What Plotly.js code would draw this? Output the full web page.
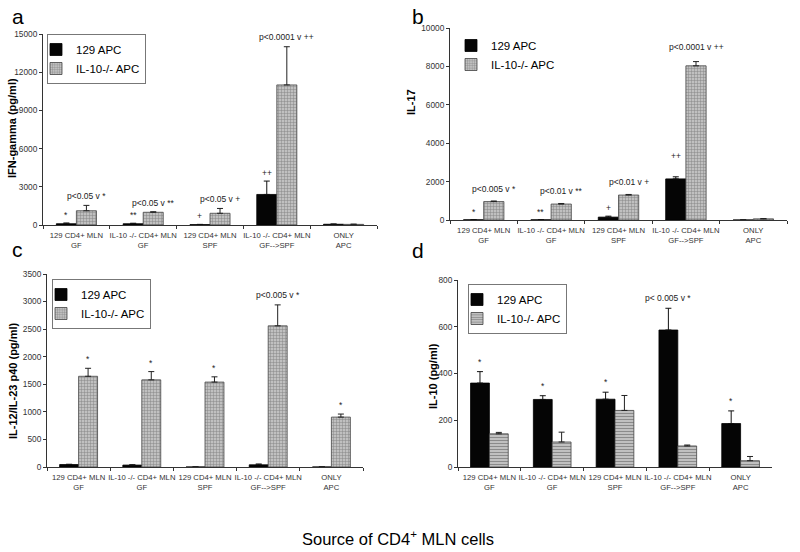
<!DOCTYPE html>
<html>
<head>
<meta charset="utf-8">
<script src="https://cdn.plot.ly/plotly-3.0.1.min.js"></script>
<style>html,body{margin:0;padding:0;background:#fff;}#chart{width:800px;height:552px;}</style>
</head>
<body>
<div id="chart"></div>
<script>
// ---- data ----
const categories = ["129 CD4+ MLN<br>GF", "IL-10 -/- CD4+ MLN<br>GF", "129 CD4+ MLN<br>SPF", "IL-10 -/- CD4+ MLN<br>GF--&gt;SPF", "ONLY<br>APC"];
const seriesNames = ["129 APC", "IL-10-/- APC"];

// a: IFN-gamma
const ifn129 = [100, 100, 30, 2400, 60];
const ifn129Err = [60, 40, 20, 1050, 20];
const ifnIL10 = [1120, 1000, 920, 11000, 50];
const ifnIL10Err = [420, 40, 380, 3000, 15];
const ifnLabels129 = ["*", "**", "+", "++", ""];
const ifnLabelsIL10 = ["p&lt;0.05 v *", "p&lt;0.05 v **", "p&lt;0.05 v +", "p&lt;0.0001 v ++", ""];

// b: IL-17
const il17_129 = [10, 10, 150, 2140, 0];
const il17_129Err = [5, 5, 50, 110, 0];
const il17IL10 = [960, 830, 1300, 8030, 60];
const il17IL10Err = [30, 30, 30, 220, 15];
const il17Labels129 = ["*", "**", "+", "++", ""];
const il17LabelsIL10 = ["p&lt;0.005 v *", "p&lt;0.01 v **", "p&lt;0.01 v +", "p&lt;0.0001 v ++", ""];

// c: IL-12/IL-23 p40
const il12_129 = [45, 35, 0, 40, 0];
const il12_129Err = [5, 5, 0, 15, 0];
const il12IL10 = [1645, 1580, 1540, 2560, 905];
const il12IL10Err = [145, 150, 95, 380, 55];
const il12LabelsIL10 = ["*", "*", "*", "p&lt;0.005 v *", "*"];

// d: IL-10
const il10_129 = [359, 289, 290, 586, 186];
const il10_129Err = [49, 16, 30, 93, 54];
const il10IL10 = [142, 107, 242, 90, 27];
const il10IL10Err = [6, 42, 64, 4, 18];
const il10Labels129 = ["*", "*", "*", "p&lt; 0.005 v *", "*"];

// ---- styling ----
const FONT = "Liberation Sans, Arial, sans-serif";
const BARGAP = 0.4;
const half = (1 - BARGAP) / 4;

function grayMarker(shape) {
  return {color: "#b0b0b0", line: {color: "#444", width: 0.8},
          pattern: {shape: shape, fgcolor: "#858585", bgcolor: "#c0c0c0", size: 3, solidity: 0.3}};
}
function blackTrace(y, err, xa, ya, lg) {
  return {type: "bar", name: seriesNames[0], x: categories, y: y, xaxis: xa, yaxis: ya, legend: lg,
    marker: {color: "#050505", line: {color: "#000", width: 0.8}},
    error_y: {type: "data", array: err, arrayminus: err.map(() => 0), symmetric: false, color: "#111", thickness: 1, width: 3}};
}
function grayTrace(y, err, xa, ya, lg, shape) {
  return {type: "bar", name: seriesNames[1], x: categories, y: y, xaxis: xa, yaxis: ya, legend: lg,
    marker: grayMarker(shape),
    error_y: {type: "data", array: err, arrayminus: err.map(() => 0), symmetric: false, color: "#222", thickness: 1, width: 3}};
}

const data = [
  blackTrace(ifn129, ifn129Err, "x", "y", "legend"),
  grayTrace(ifnIL10, ifnIL10Err, "x", "y", "legend", "+"),
  blackTrace(il17_129, il17_129Err, "x2", "y2", "legend2"),
  grayTrace(il17IL10, il17IL10Err, "x2", "y2", "legend2", "+"),
  blackTrace(il12_129, il12_129Err, "x3", "y3", "legend3"),
  grayTrace(il12IL10, il12IL10Err, "x3", "y3", "legend3", "+"),
  blackTrace(il10_129, il10_129Err, "x4", "y4", "legend4"),
  grayTrace(il10IL10, il10IL10Err, "x4", "y4", "legend4", "-")
];

function xax(dom, anchor) {
  return {domain: dom, anchor: anchor, type: "category", showline: true, linecolor: "#333", linewidth: 1,
    ticks: "outside", tickson: "boundaries", ticklen: 3, tickcolor: "#333", tickangle: 0, ticklabelstandoff: 3,
    tickfont: {family: FONT, size: 7.7, color: "#333"}, showgrid: false, zeroline: false, fixedrange: true};
}
function yax(dom, max, dtick, anchor) {
  return {domain: dom, range: [0, max], dtick: dtick, tickformat: "d", anchor: anchor, showline: true, linecolor: "#333", linewidth: 1,
    ticks: "outside", ticklen: 3, tickcolor: "#333", showgrid: false, zeroline: false,
    tickfont: {family: FONT, size: 8.3, color: "#333"}, fixedrange: true};
}
const W = 800, H = 552;
const px = v => v / W, py = v => 1 - v / H;

const annotations = [];
function addLabels(labels, vals, errs, xa, ya, offset, shifts) {
  labels.forEach((t, i) => {
    if (!t) return;
    annotations.push({xref: xa, yref: ya, x: i + offset, y: vals[i] + errs[i], text: t, showarrow: false,
      yanchor: "bottom", xanchor: "center", yshift: (shifts && shifts[i]) || 1,
      font: {family: FONT, size: 8.5, color: "#222"}});
  });
}
addLabels(ifnLabels129, ifn129, ifn129Err, "x", "y", -half, [1, 1, 1, 1, 1]);
addLabels(ifnLabelsIL10, ifnIL10, ifnIL10Err, "x", "y", half, [2, 2, 2, 3, 2]);
addLabels(il17Labels129, il17_129, il17_129Err, "x2", "y2", -half, [1, 1, 1, 14, 1]);
addLabels(il17LabelsIL10, il17IL10, il17IL10Err, "x2", "y2", half, [5, 5, 5, 8, 5]);
addLabels(il12LabelsIL10, il12IL10, il12IL10Err, "x3", "y3", half, [2, 2, 2, 3, 2]);
addLabels(il10Labels129, il10_129, il10_129Err, "x4", "y4", -half, [3, 3, 3, 3, 3]);

// panel letters
[["a", 10, 3], ["b", 410, 3], ["c", 10, 236], ["d", 410, 237]].forEach(p => {
  annotations.push({xref: "paper", yref: "paper", x: px(p[1]), y: py(p[2]), xanchor: "left", yanchor: "top",
    text: p[0], showarrow: false, font: {family: FONT, size: 21, color: "#000"}});
});
// y-axis titles
[["IFN-gamma (pg/ml)", 12, 128], ["IL-17", 411, 102], ["IL-12/IL-23 p40 (pg/ml)", 13, 381], ["IL-10 (pg/ml)", 433, 376]].forEach(t => {
  annotations.push({xref: "paper", yref: "paper", x: px(t[1]), y: py(t[2]), xanchor: "center", yanchor: "middle",
    text: t[0], textangle: -90, showarrow: false, font: {family: FONT, size: 11, weight: "bold", color: "#000"}});
});
// common x title
annotations.push({xref: "paper", yref: "paper", x: px(398), y: py(538), xanchor: "center", yanchor: "middle",
  text: "Source of CD4<sup>+</sup> MLN cells", showarrow: false, font: {family: FONT, size: 16.5, color: "#000"}});

function leg(x, y, border) {
  return {x: px(x), y: py(y), xanchor: "left", yanchor: "top", bgcolor: "rgba(255,255,255,0)",
    bordercolor: border ? "#777" : "rgba(0,0,0,0)", borderwidth: border ? 1 : 0, indentation: -12,
    font: {family: FONT, size: 11.5, color: "#000"}, tracegroupgap: 0, itemclick: false, itemdoubleclick: false};
}

const layout = {
  width: W, height: H, margin: {l: 0, r: 0, t: 0, b: 0}, paper_bgcolor: "#fff", plot_bgcolor: "rgba(0,0,0,0)",
  barmode: "group", bargap: BARGAP, bargroupgap: 0, showlegend: true,
  xaxis: xax([px(43), px(377)], "y"), yaxis: yax([py(225), py(34)], 15000, 3000, "x"),
  xaxis2: xax([px(450), px(787)], "y2"), yaxis2: yax([py(220), py(28)], 10000, 2000, "x2"),
  xaxis3: xax([px(47), px(363)], "y3"), yaxis3: yax([py(467), py(274)], 3500, 500, "x3"),
  xaxis4: xax([px(458), px(772)], "y4"), yaxis4: yax([py(467), py(280)], 800, 200, "x4"),
  legend: leg(47, 34, true), legend2: leg(463, 31, false), legend3: leg(52, 279, true), legend4: leg(468, 284, true),
  annotations: annotations
};

Plotly.newPlot("chart", data, layout, {staticPlot: true, displayModeBar: false});
</script>
</body>
</html>
